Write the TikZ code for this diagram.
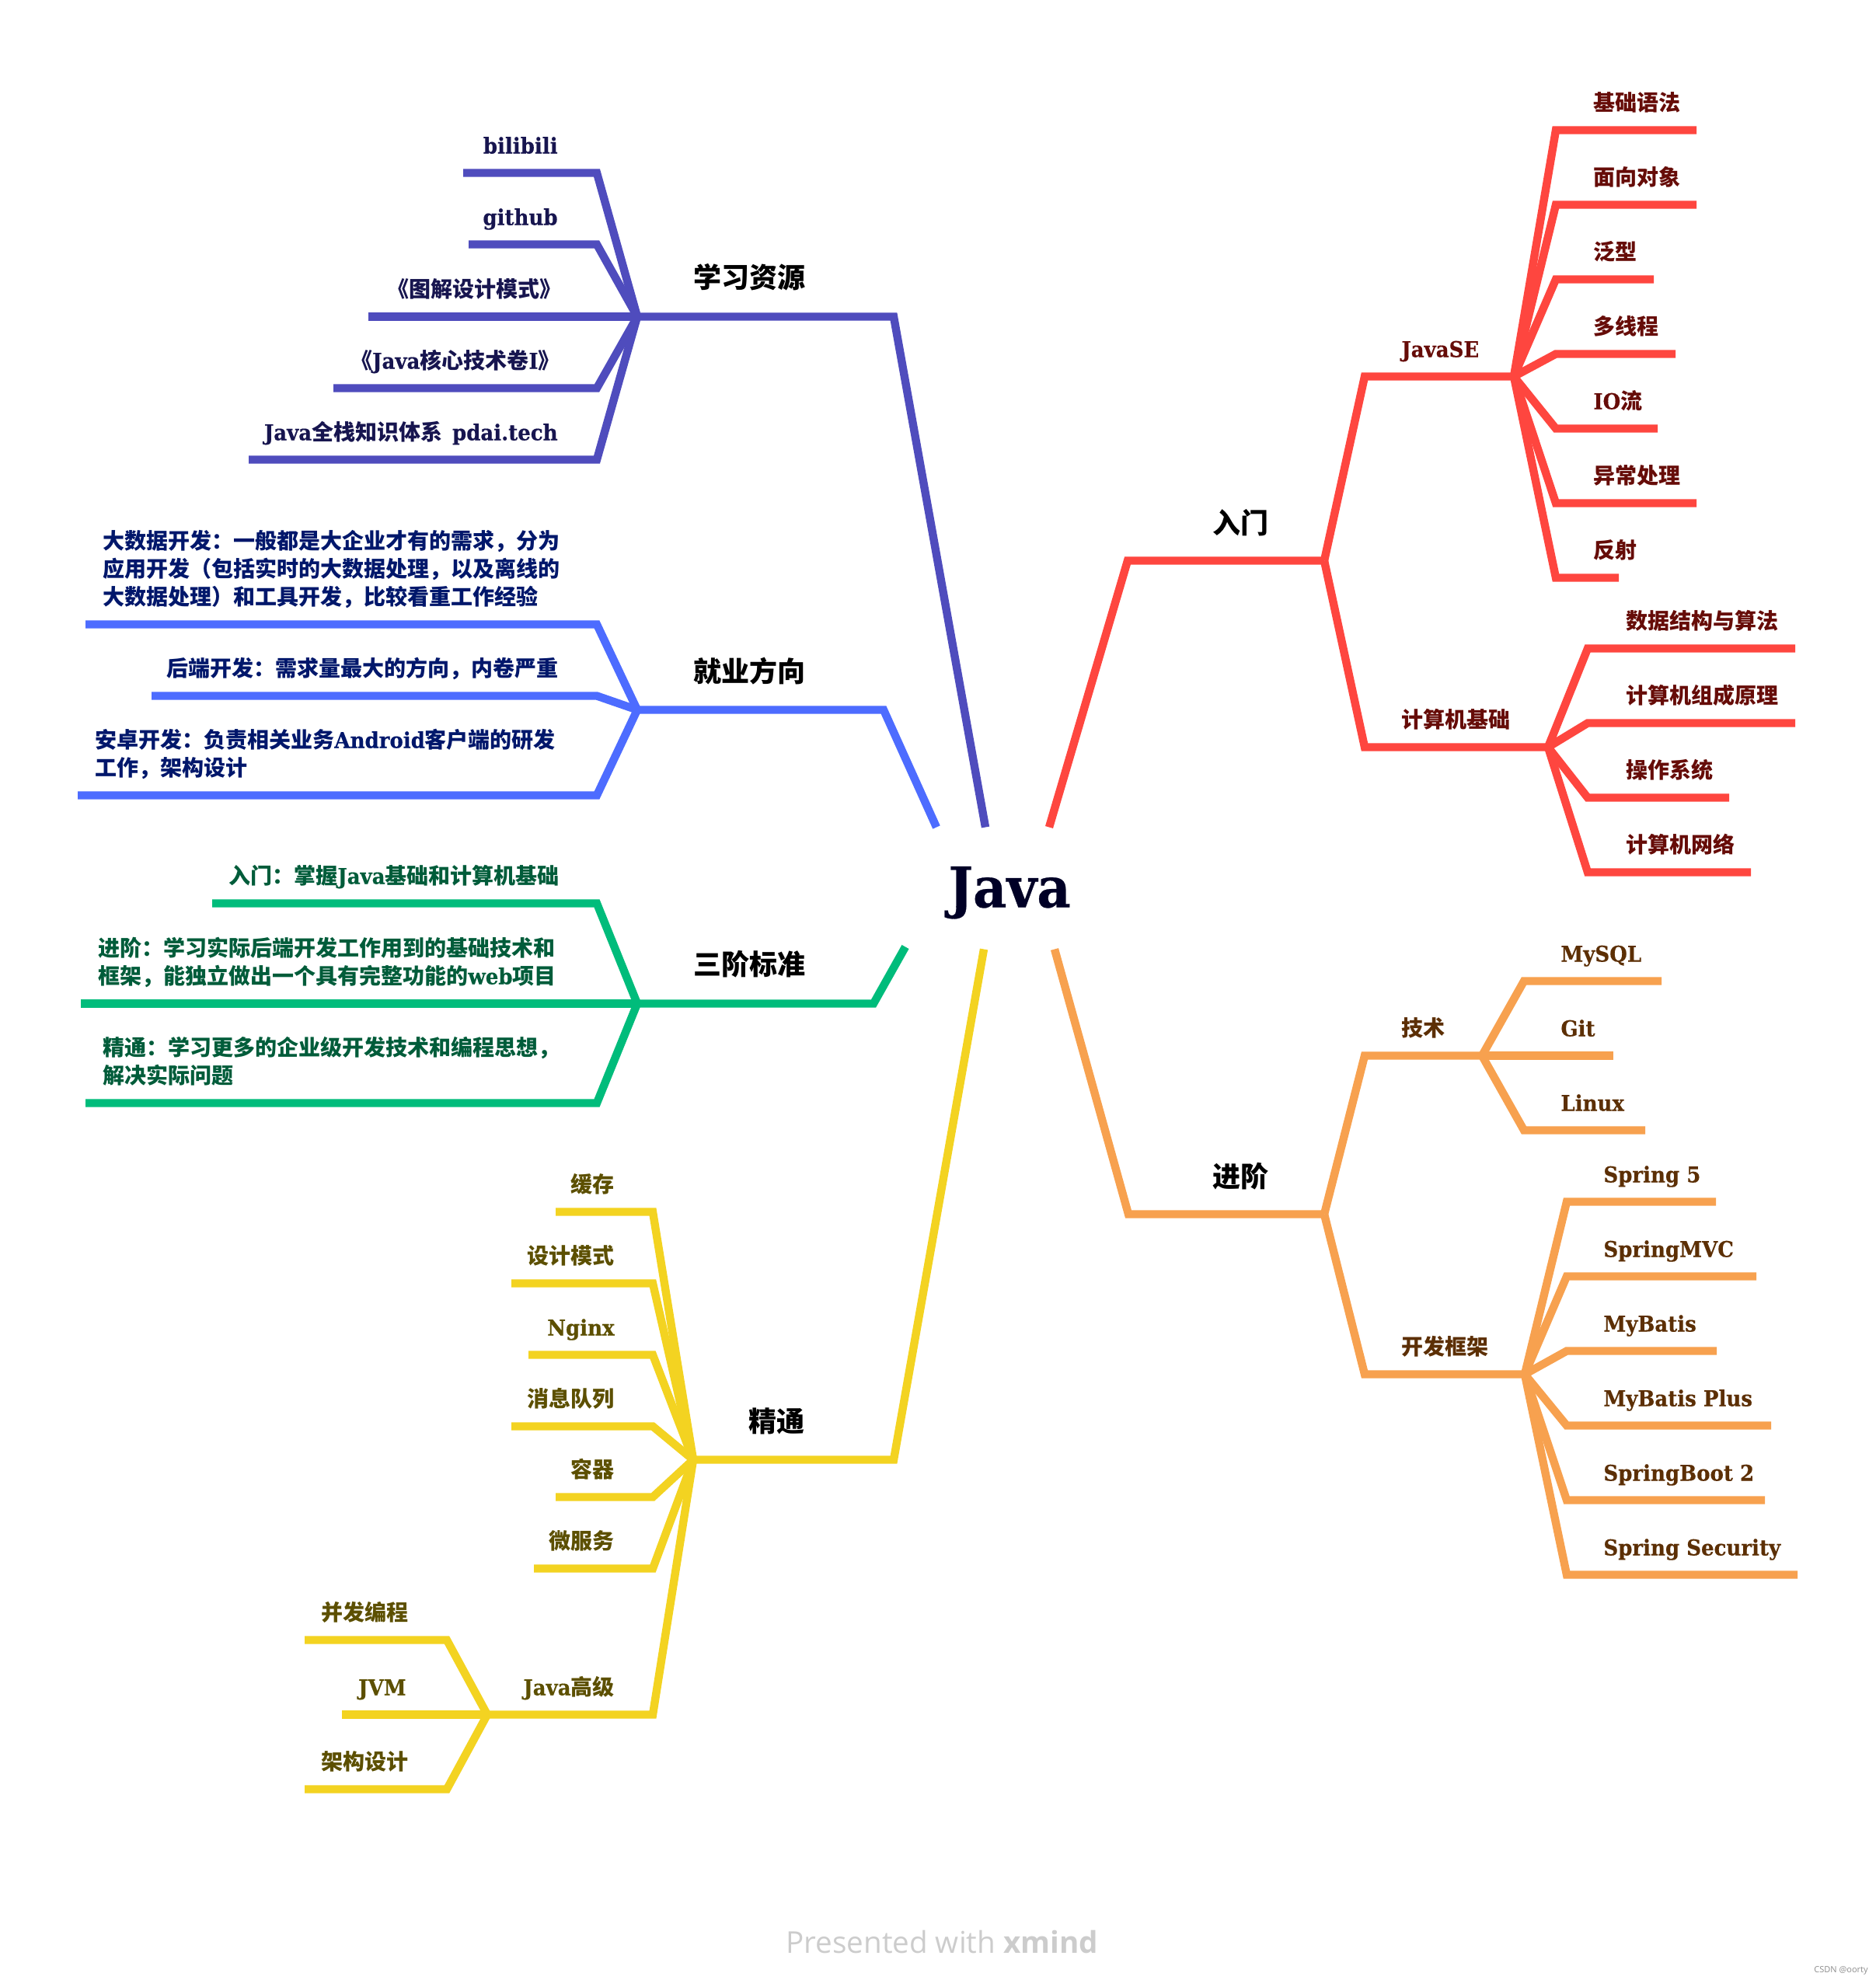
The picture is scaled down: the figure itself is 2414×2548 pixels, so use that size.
\documentclass[tikz,border=0pt]{standalone}
\usepackage{fontspec}
\setmainfont{Noto Sans CJK SC}
\newfontfamily\latinfont[FakeStretch=0.93,FakeBold=0.4]{DejaVu Serif}
\newfontfamily\markfont{Open Sans}
\newcommand{\lat}[1]{{\latinfont #1}}
\newcommand{\cncolon}{\char"FF1A\relax}
\newcommand{\cncomma}{\char"FF0C\relax}
\newcommand{\cnopen}{\char"FF08\relax}
\newcommand{\cnclose}{\char"FF09\relax}
\definecolor{redline}{HTML}{FE463F}
\definecolor{orangeline}{HTML}{F7A14F}
\definecolor{yellowline}{HTML}{F3D321}
\definecolor{greenline}{HTML}{00BC7B}
\definecolor{blueline}{HTML}{4D6CFF}
\definecolor{purpleline}{HTML}{4F4CBD}
\definecolor{redtext}{HTML}{660C08}
\definecolor{orangetext}{HTML}{5C2F05}
\definecolor{yellowtext}{HTML}{5C4F00}
\definecolor{greentext}{HTML}{005C3A}
\definecolor{bluetext}{HTML}{00176B}
\definecolor{purpletext}{HTML}{17154F}
\tikzset{
  branch/.style={line width=5.2pt},
  leaf/.style={inner sep=0pt, font=\bfseries\fontsize{14}{18}\selectfont},
  title/.style={inner sep=0pt, text=black, font=\bfseries\fontsize{18}{22}\selectfont},
}
\begin{document}
\begin{tikzpicture}[x=0.5pt,y=-0.5pt]
        \useasboundingbox (0,-1.5) rectangle (2414,2546.5);
        % Draw the centre
        \node[inner sep=0pt, anchor=base west, text=black!85!blue, font=\bfseries\fontsize{36}{40}\selectfont] (java) at (1220,1166) {\lat{Java}};
        \coordinate (jred) at (1350,1063);
        \coordinate (jorange) at (1357,1220);
        \coordinate (jyellow) at (1266,1220);
        \coordinate (jgreen) at (1165,1217);
        \coordinate (jblue) at (1205,1063);
        \coordinate (jpurple) at (1268,1063);

        % Draw the red side
        \coordinate (redhub) at (1704,720);
        \coordinate (sebend) at (1756,483);
        \coordinate (sehub) at (1948,483);
        \coordinate (csbend) at (1756,960);
        \coordinate (cshub) at (1992,960);
        \coordinate (redbend) at (1451,720);
        \draw[branch, redline] (jred) -- (redbend) -- (redhub);
        \draw[branch, redline] (redhub) -- (sebend) -- (sehub);
        \draw[branch, redline] (redhub) -- (csbend) -- (cshub);
        \node[title, anchor=base west] (intro) at (1560,685) {入门};
        \node[leaf, text=redtext, anchor=base west] (javase) at (1803,458) {\lat{JavaSE}};
        \node[leaf, text=redtext, anchor=base west] (cs) at (1803,935) {计算机基础};
        \foreach \n/\yy/\xe/\txt in {1/166/2183/基础语法, 2/262/2183/面向对象, 3/358/2128/泛型, 4/454/2156/多线程, 5/550/2133/{\lat{IO}流}, 6/646/2183/异常处理, 7/742/2083/反射} {
          \coordinate (sebend\n) at (2002,\yy);
          \coordinate (seend\n) at (\xe,\yy);
          \draw[branch, redline] (sehub) -- (sebend\n) -- (seend\n);
          \node[leaf, text=redtext, anchor=base west] (seleaf\n) at (2050,\yy-25) {\txt};
        }
        \foreach \n/\yy/\xe/\txt in {1/833/2310/数据结构与算法, 2/929/2310/计算机组成原理, 3/1025/2225/操作系统, 4/1121/2253/计算机网络} {
          \coordinate (csbend\n) at (2043,\yy);
          \coordinate (csend\n) at (\xe,\yy);
          \draw[branch, redline] (cshub) -- (csbend\n) -- (csend\n);
          \node[leaf, text=redtext, anchor=base west] (csleaf\n) at (2092,\yy-25) {\txt};
        }

        % Draw the orange side
        \coordinate (orangehub) at (1704,1561);
        \coordinate (orangebend) at (1452,1561);
        \coordinate (techbend) at (1756,1357);
        \coordinate (techhub) at (1907,1357);
        \coordinate (fwbend) at (1756,1767);
        \coordinate (fwhub) at (1962,1767);
        \draw[branch, orangeline] (jorange) -- (orangebend) -- (orangehub);
        \draw[branch, orangeline] (orangehub) -- (techbend) -- (techhub);
        \draw[branch, orangeline] (orangehub) -- (fwbend) -- (fwhub);
        \node[title, anchor=base west] (advanced) at (1560,1526) {进阶};
        \node[leaf, text=orangetext, anchor=base west] (tech) at (1803,1332) {技术};
        \node[leaf, text=orangetext, anchor=base west] (fw) at (1803,1742) {开发框架};
        \foreach \n/\yy/\xe/\txt in {1/1261/2138/MySQL, 2/1357/2076/Git, 3/1453/2117/Linux} {
          \coordinate (techbend\n) at (1961,\yy);
          \coordinate (techend\n) at (\xe,\yy);
          \draw[branch, orangeline] (techhub) -- (techbend\n) -- (techend\n);
          \node[leaf, text=orangetext, anchor=base west] (techleaf\n) at (2008,\yy-25) {\lat{\txt}};
        }
        \foreach \n/\yy/\xe/\txt in {1/1545/2208/Spring 5, 2/1641/2260/SpringMVC, 3/1737/2209/MyBatis, 4/1833/2279/MyBatis Plus, 5/1929/2271/SpringBoot 2, 6/2025/2313/Spring Security} {
          \coordinate (fwbend\n) at (2016,\yy);
          \coordinate (fwend\n) at (\xe,\yy);
          \draw[branch, orangeline] (fwhub) -- (fwbend\n) -- (fwend\n);
          \node[leaf, text=orangetext, anchor=base west] (fwleaf\n) at (2063,\yy-25) {\lat{\txt}};
        }

        % Draw the yellow side
        \coordinate (yellowhub) at (892,1877);
        \coordinate (yellowbend) at (1150,1877);
        \coordinate (advbend) at (840,2205);
        \coordinate (advhub) at (627,2205);
        \draw[branch, yellowline] (jyellow) -- (yellowbend) -- (yellowhub);
        \draw[branch, yellowline] (yellowhub) -- (advbend) -- (advhub);
        \node[title, anchor=base west] (expert) at (963,1841) {精通};
        \node[leaf, text=yellowtext, anchor=base east] (adv) at (791,2180) {\lat{Java}高级};
        \foreach \n/\yy/\xe/\txt in {1/1558/715/缓存, 2/1650/658/设计模式, 3/1742/680/{\lat{Nginx}}, 4/1834/658/消息队列, 5/1925/715/容器, 6/2017/687/微服务} {
          \coordinate (topbend\n) at (840,\yy);
          \coordinate (topend\n) at (\xe,\yy);
          \draw[branch, yellowline] (yellowhub) -- (topbend\n) -- (topend\n);
          \node[leaf, text=yellowtext, anchor=base east] (topleaf\n) at (791,\yy-25) {\txt};
        }
        \foreach \n/\yy/\xe/\rx/\txt in {1/2109/392/526/并发编程, 2/2205/440/523/{\lat{JVM}}, 3/2301/392/526/架构设计} {
          \coordinate (advbend\n) at (575,\yy);
          \coordinate (advend\n) at (\xe,\yy);
          \draw[branch, yellowline] (advhub) -- (advbend\n) -- (advend\n);
          \node[leaf, text=yellowtext, anchor=base east] (advleaf\n) at (\rx,\yy-25) {\txt};
        }

        % Draw the green side
        \coordinate (greenhub) at (820,1290);
        \coordinate (greenbend) at (1124,1290);
        \draw[branch, greenline] (jgreen) -- (greenbend) -- (greenhub);
        \node[title, anchor=base west] (levels) at (892,1253) {三阶标准};
        \coordinate (lvlbend1) at (768,1161);
        \coordinate (lvlend1) at (273,1161);
        \coordinate (lvlbend3) at (768,1418);
        \coordinate (lvlend3) at (110,1418);
        \coordinate (lvlend2) at (104,1290);
        \draw[branch, greenline] (greenhub) -- (lvlbend1) -- (lvlend1);
        \draw[branch, greenline] (greenhub) -- (lvlend2);
        \draw[branch, greenline] (greenhub) -- (lvlbend3) -- (lvlend3);
        \node[leaf, text=greentext, anchor=base east] (lvlleaf1) at (720,1136) {入门\cncolon 掌握\lat{Java}基础和计算机基础};
        \node[leaf, text=greentext, anchor=base west, align=left] (lvlleaf2) at (126,1265) {进阶\cncolon 学习实际后端开发工作用到的基础技术和\\框架\cncomma 能独立做出一个具有完整功能的\lat{web}项目};
        \node[leaf, text=greentext, anchor=base west, align=left] (lvlleaf3) at (132,1393) {精通\cncolon 学习更多的企业级开发技术和编程思想\cncomma\\解决实际问题};

        % Draw the blue side
        \coordinate (bluehub) at (820,912);
        \coordinate (bluebend) at (1137,912);
        \draw[branch, blueline] (jblue) -- (bluebend) -- (bluehub);
        \node[title, anchor=base west] (jobs) at (892,876) {就业方向};
        \foreach \n/\yy/\xe in {1/802/110, 2/894/195, 3/1022/100} {
          \coordinate (jobbend\n) at (768,\yy);
          \coordinate (jobend\n) at (\xe,\yy);
          \draw[branch, blueline] (bluehub) -- (jobbend\n) -- (jobend\n);
        }
        \node[leaf, text=bluetext, anchor=base west, align=left] (jobleaf1) at (132,777) {大数据开发\cncolon 一般都是大企业才有的需求\cncomma 分为\\应用开发\cnopen 包括实时的大数据处理\cncomma 以及离线的\\大数据处理\cnclose 和工具开发\cncomma 比较看重工作经验};
        \node[leaf, text=bluetext, anchor=base east] (jobleaf2) at (719,869) {后端开发\cncolon 需求量最大的方向\cncomma 内卷严重};
        \node[leaf, text=bluetext, anchor=base west, align=left] (jobleaf3) at (122,997) {安卓开发\cncolon 负责相关业务\lat{Android}客户端的研发\\工作\cncomma 架构设计};

        % Draw the purple side
        \coordinate (purplehub) at (820,406);
        \coordinate (purplebend) at (1150,406);
        \draw[branch, purpleline] (jpurple) -- (purplebend) -- (purplehub);
        \node[title, anchor=base west] (resources) at (892,369) {学习资源};
        \foreach \n/\yy/\xe/\rx/\txt in {1/221/596/718/{\lat{bilibili}}, 2/313/603/718/{\lat{github}}, 4/498/429/721/{《\lat{Java}核心技术卷\lat{I}》}, 5/590/320/718/{\lat{Java}全栈知识体系\ \ \lat{pdai.tech}}} {
          \coordinate (resbend\n) at (768,\yy);
          \coordinate (resend\n) at (\xe,\yy);
          \draw[branch, purpleline] (purplehub) -- (resbend\n) -- (resend\n);
          \node[leaf, text=purpletext, anchor=base east] (resleaf\n) at (\rx,\yy-25) {\txt};
        }
        \coordinate (resend3) at (474,406);
        \draw[branch, purpleline] (purplehub) -- (resend3);
        \node[leaf, text=purpletext, anchor=base east] (resleaf3) at (723,381) {《图解设计模式》};

        % Draw the marks at the bottom
        \node[inner sep=0pt, anchor=base west, text=black!20, font=\markfont\fontsize{19.3}{22}\selectfont] (xmindmark) at (1011,2512) {Presented with \textbf{xmind}};
        \node[inner sep=0pt, anchor=base west, text=black!45, font=\markfont\fontsize{5.5}{6}\selectfont] (csdnmark) at (2334,2537) {CSDN @oorty};
\end{tikzpicture}
\end{document}
